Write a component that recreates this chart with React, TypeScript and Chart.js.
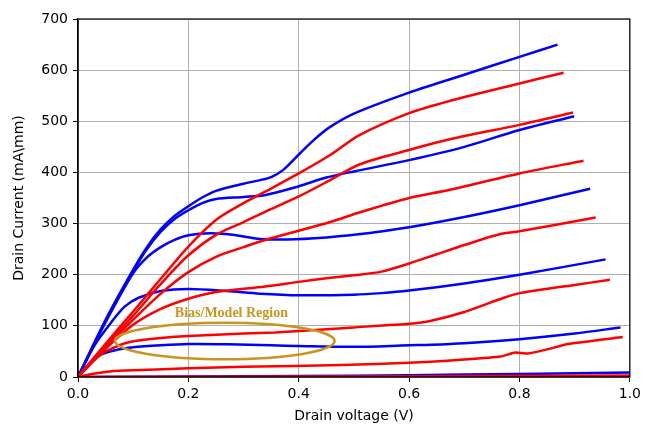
import React, { useEffect, useRef } from "react";
import { Chart, registerables } from "chart.js";

Chart.register(...registerables);

// Axis ticks
const xTickValues = [0, 0.2, 0.4, 0.6, 0.8, 1.0];
const yTickValues = [0, 100, 200, 300, 400, 500, 600, 700];

// Blue curves: [Vds (V), Id (mA/mm)]
const blue1: number[][] = [[0,0],[0.05,112],[0.1,210],[0.125,254],[0.15,289],[0.175,315],[0.2,334],[0.225,351],[0.25,364],[0.3,378],[0.33,385],[0.35,391],[0.372,405],[0.402,437],[0.43,466],[0.457,489],[0.5,515],[0.6,556],[0.7,591],[0.8,626],[0.869,650]];
const blue2: number[][] = [[0,0],[0.05,110],[0.1,207],[0.125,250],[0.15,284],[0.175,309],[0.2,326],[0.225,340],[0.25,348],[0.3,352],[0.34,356],[0.4,373],[0.45,390],[0.5,402],[0.6,424],[0.7,450],[0.8,483],[0.899,510]];
const blue3: number[][] = [[0,0],[0.05,107],[0.1,203],[0.125,234],[0.15,254],[0.175,268],[0.2,277],[0.24,281],[0.28,278],[0.33,270],[0.38,269],[0.45,273],[0.5,278],[0.6,293],[0.7,313],[0.8,336],[0.928,368]];
const blue4: number[][] = [[0,0],[0.03,62],[0.061,108],[0.085,138],[0.11,155],[0.15,168],[0.2,172],[0.27,168],[0.33,163],[0.4,160],[0.5,161],[0.55,164],[0.6,169],[0.7,183],[0.8,200],[0.956,230]];
const blue5: number[][] = [[0,0],[0.02,25],[0.04,43],[0.07,53],[0.1,58],[0.15,62],[0.2,64.5],[0.27,64],[0.35,62],[0.4,60.5],[0.5,59],[0.6,62],[0.64,63],[0.7,66],[0.8,74],[0.9,85],[0.983,97]];
const blue6: number[][] = [[0,0],[0.2,1],[0.4,2],[0.6,3.5],[0.8,6],[1.0,9]];

// Red curves
const red1: number[][] = [[0,0],[0.05,65],[0.1,128],[0.15,192],[0.2,255],[0.25,307],[0.3,340],[0.342,364],[0.4,398],[0.457,434],[0.51,473],[0.6,516],[0.674,540],[0.8,574],[0.88,595]];
const red2: number[][] = [[0,0],[0.05,62],[0.1,120],[0.15,182],[0.2,238],[0.25,278],[0.3,303],[0.339,323],[0.4,353],[0.457,385],[0.511,416],[0.6,444],[0.674,465],[0.8,493],[0.897,517]];
const red3: number[][] = [[0,0],[0.05,58],[0.1,112],[0.15,163],[0.2,205],[0.25,235],[0.3,254],[0.339,268],[0.4,286],[0.457,303],[0.511,322],[0.6,350],[0.674,366],[0.8,398],[0.916,423]];
const red4: number[][] = [[0,0],[0.05,55],[0.1,102],[0.15,133],[0.2,153],[0.25,166],[0.339,177],[0.4,186],[0.45,193],[0.5,199],[0.55,206],[0.6,222],[0.65,240],[0.7,258],[0.767,280],[0.8,285],[0.938,312]];
const red5: number[][] = [[0,0],[0.02,25],[0.05,50],[0.085,66],[0.12,73],[0.2,80],[0.3,85],[0.357,87],[0.43,92],[0.5,97],[0.6,104],[0.64,110],[0.7,127],[0.769,154],[0.8,164],[0.9,180],[0.964,190]];
const red6: number[][] = [[0,0],[0.02,5],[0.05,10],[0.085,12.5],[0.2,17],[0.3,20],[0.478,23.5],[0.6,28],[0.638,30],[0.7,34],[0.766,40],[0.792,48],[0.815,46],[0.85,54],[0.888,64.5],[0.987,78]];
const red7: number[][] = [[0,0],[0.5,1],[1.0,3]];

const redSeries = [red7, red6, red5, red4, red3, red2, red1];
const blueSeries = [blue6, blue5, blue4, blue3, blue2, blue1];

// Annotation (data units)
const regionLabel = "Bias/Model Region";
const ellipseCenter = [0.266, 70.4];
const ellipseRadius = [0.199, 35.8];
const labelPos = [0.278, 117];

const GOLD = "#c8961e";

const overlayPlugin = {
  id: "overlay",
  afterDatasetsDraw(chart: any) {
    const { ctx, chartArea, scales } = chart;
    const x = scales.x;
    const y = scales.y;
    ctx.save();
    ctx.strokeStyle = "#000";
    ctx.lineWidth = 1.2;
    ctx.strokeRect(chartArea.left, chartArea.top, chartArea.right - chartArea.left, chartArea.bottom - chartArea.top);
    const cx = x.getPixelForValue(ellipseCenter[0]);
    const cy = y.getPixelForValue(ellipseCenter[1]);
    const rx = x.getPixelForValue(ellipseCenter[0] + ellipseRadius[0]) - cx;
    const ry = cy - y.getPixelForValue(ellipseCenter[1] + ellipseRadius[1]);
    ctx.beginPath();
    ctx.ellipse(cx, cy, rx, ry, 0, 0, Math.PI * 2);
    ctx.strokeStyle = GOLD;
    ctx.lineWidth = 2.5;
    ctx.stroke();
    ctx.fillStyle = GOLD;
    ctx.font = 'bold 14px "Liberation Serif", "DejaVu Serif", serif';
    ctx.textAlign = "center";
    ctx.textBaseline = "alphabetic";
    ctx.fillText(regionLabel, x.getPixelForValue(labelPos[0]), y.getPixelForValue(labelPos[1]));
    ctx.restore();
  },
};

export default function App() {
  const ref = useRef<HTMLCanvasElement | null>(null);
  useEffect(() => {
    if (!ref.current) return;
    const mk = (d: number[][], color: string, tension: number) => ({
      data: d.map(([v, i]) => ({ x: v, y: i })),
      borderColor: color,
      backgroundColor: color,
      borderWidth: 2.5,
      pointRadius: 0,
      fill: false,
      tension,
    });
    const datasets = [
      ...redSeries.map((s) => mk(s, "#ff0000", s === red6 || s === red5 ? 0.15 : 0.3)),
      ...blueSeries.map((s) => mk(s, "#0000ff", 0.3)),
    ];
    const tickFont = { family: '"DejaVu Sans", sans-serif', size: 14 };
    const chart = new Chart(ref.current, {
      type: "line",
      data: { datasets },
      plugins: [overlayPlugin],
      options: {
        animation: false,
        responsive: false,
        layout: { padding: { left: 0, right: 15, top: 19, bottom: 0 } },
        plugins: { legend: { display: false }, tooltip: { enabled: false } },
        scales: {
          x: {
            type: "linear",
            min: 0,
            max: 1,
            afterBuildTicks: (s: any) => { s.ticks = xTickValues.map((v) => ({ value: v })); },
            afterFit: (s: any) => { s.height = 50; },
            ticks: { color: "#000", font: tickFont, padding: 4, maxRotation: 0, callback: (v: any) => Number(v).toFixed(1) },
            grid: { color: "#b0b0b0", lineWidth: 1, tickLength: 5, tickColor: "#000" },
            border: { display: true, color: "#000", width: 1.2 },
            title: { display: true, text: "Drain voltage (V)", color: "#000", font: tickFont, padding: { top: 0, bottom: 2 } },
          },
          y: {
            type: "linear",
            min: 0,
            max: 700,
            afterBuildTicks: (s: any) => { s.ticks = yTickValues.map((v) => ({ value: v })); },
            afterFit: (s: any) => { s.width = 78; },
            ticks: { color: "#000", font: tickFont, padding: 5, callback: (v: any) => String(Math.round(Number(v))) },
            grid: { color: "#b0b0b0", lineWidth: 1, tickLength: 5, tickColor: "#000" },
            border: { display: true, color: "#000", width: 1.2 },
            title: { display: true, text: "Drain Current (mA\\mm)", color: "#000", font: tickFont, padding: { top: 11, bottom: 0 } },
          },
        },
      },
    } as any);
    return () => chart.destroy();
  }, []);
  return (
    <div style={{ position: "absolute", left: 0, top: 0, width: 645, height: 427, background: "#fff" }}>
      <canvas ref={ref} width={645} height={427} style={{ display: "block" }} />
    </div>
  );
}
